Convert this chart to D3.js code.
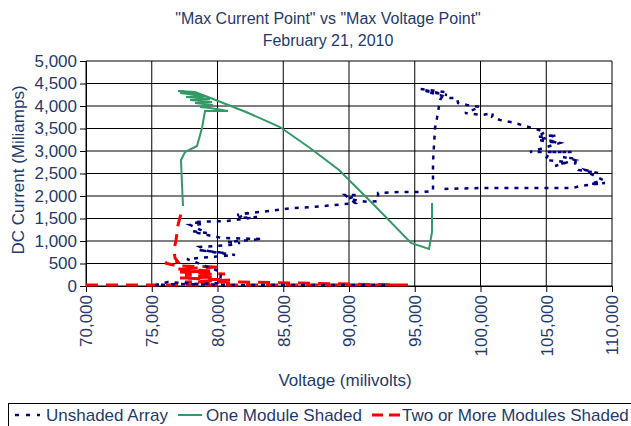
<!DOCTYPE html>
<html>
<head>
<meta charset="utf-8">
<script src="https://cdn.jsdelivr.net/npm/d3@7"></script>
<style>
  body { margin: 0; background: #fff; }
  text { font-family: "Liberation Sans", Arial, sans-serif; fill: #1f3a6e; }
</style>
</head>
<body>
<div class="chart"></div>
<script>
// Chart data
const titleLines = ['"Max Current Point" vs "Max Voltage Point"', "February 21, 2010"];
const xTicks = [70000, 75000, 80000, 85000, 90000, 95000, 100000, 105000, 110000];
const yTicks = [0, 500, 1000, 1500, 2000, 2500, 3000, 3500, 4000, 4500, 5000];
const seriesNames = ["Unshaded Array", "One Module Shaded", "Two or More Modules Shaded"];

// Unshaded Array: voltage (mV) / current (mA)
const unshadedV = [92739, 86275, 81712, 76997, 75247, 76236, 78670, 80191, 80267, 77681, 79430, 81331,
  78518, 80571, 79278, 78670, 80951, 81712, 80799, 83385, 80343, 79582, 78518, 78061, 79202, 77909,
  78898, 78137, 80723, 83005, 81560, 82320, 81484, 82472, 83993, 85666, 87263, 88936, 90457, 89697,
  90610, 89925, 91446, 92207, 92207, 93880, 95629, 96389, 96389, 96541, 96694, 96922, 97302, 95401,
  97454, 95781, 97682, 98215, 98291, 98975, 99964, 98823, 100116, 100952, 100876, 101485, 102625,
  103918, 104907, 104299, 105820, 104375, 105896, 105135, 106048, 103766, 106960, 105287, 104907,
  106580, 105667, 107188, 106276, 107341, 107188, 107417, 108938, 107949, 108101, 109318, 108329,
  109470, 107569, 107036, 103766, 99964, 97150];
const unshadedI = [20, 20, 20, 44, 20, 89, 44, 67, 311, 600, 644, 689,
  800, 733, 778, 867, 911, 956, 978, 1044, 1067, 1111, 1178, 1222, 1178, 1356,
  1378, 1422, 1444, 1533, 1511, 1622, 1578, 1622, 1667, 1733, 1756, 1800, 1844, 2022,
  2022, 1933, 1867, 1889, 2067, 2089, 2089, 2111, 2756, 3511, 3733, 4133, 4311, 4378,
  4244, 4333, 4178, 4178, 4067, 4022, 3978, 3844, 3800, 3844, 3756, 3689, 3622,
  3511, 3422, 3311, 3356, 3244, 3178, 3244, 3178, 2978, 2978, 2978, 2800,
  2756, 2667, 2800, 2867, 2822, 2733, 2578, 2511, 2578, 2533, 2356, 2267,
  2289, 2222, 2178, 2178, 2178, 2156];

// One Module Shaded
const oneModV = [77377, 77301, 77225, 77529, 78442, 78822, 79050, 80799, 79430, 78670, 79658, 78289,
  79582, 77909, 79430, 77605, 79050, 77149, 78670, 76997, 78289, 79278, 79658, 82168, 84754, 87035,
  89241, 91978, 94716, 96085, 96313, 96313];
const oneModI = [1778, 2244, 2800, 2978, 3111, 3511, 3889, 3889, 3956, 3978, 4022, 4067,
  4089, 4133, 4156, 4200, 4222, 4289, 4267, 4333, 4311, 4200, 4156, 3867, 3533, 3067,
  2578, 1778, 956, 822, 1200, 1844];

// Two or More Modules Shaded
const twoModV = [70000, 74867, 81712, 88556, 94488, 81712, 77529, 80951, 77149, 79810, 77529, 80571,
  77149, 79430, 76997, 80191, 76997, 76008, 76997, 76768, 76692, 76845, 76997, 77301];
const twoModI = [20, 20, 20, 20, 20, 89, 89, 133, 178, 200, 244, 267,
  311, 333, 378, 422, 444, 511, 533, 622, 800, 1022, 1356, 1689];

const W = 631, H = 426;
const plot = { left: 86, right: 612, top: 61, bottom: 286 };

const svg = d3.select(".chart").append("svg")
    .attr("width", W)
    .attr("height", H);

const x = d3.scaleLinear().domain([70000, 110000]).range([plot.left, plot.right]);
const y = d3.scaleLinear().domain([0, 5000]).range([plot.bottom, plot.top]);

// Gridlines
svg.append("g")
    .selectAll("line.h")
    .data(yTicks)
    .enter().append("line")
    .attr("x1", plot.left).attr("x2", plot.right)
    .attr("y1", d => y(d)).attr("y2", d => y(d))
    .attr("stroke", "#000").attr("stroke-width", 1);

svg.append("g")
    .selectAll("line.v")
    .data(xTicks)
    .enter().append("line")
    .attr("x1", d => x(d)).attr("x2", d => x(d))
    .attr("y1", plot.top).attr("y2", plot.bottom)
    .attr("stroke", "#000").attr("stroke-width", 1);

// Axes
const fmt = d3.format(",");
const yAxis = svg.append("g")
    .attr("transform", `translate(${plot.left},0)`)
    .call(d3.axisLeft(y).tickValues(yTicks).tickFormat(fmt).tickSize(6).tickPadding(3));
yAxis.selectAll("text").style("font-size", "17px").attr("fill", "#1f3a6e");

const xAxis = svg.append("g")
    .attr("transform", `translate(0,${plot.bottom})`)
    .call(d3.axisBottom(x).tickValues(xTicks).tickFormat(fmt).tickSize(6));
xAxis.selectAll("text")
    .style("font-size", "17px")
    .attr("fill", "#1f3a6e")
    .attr("transform", "rotate(-90)")
    .attr("text-anchor", "end")
    .attr("x", -9)
    .attr("y", 0)
    .attr("dy", "0.35em");
svg.selectAll(".domain").attr("stroke", "#000");
svg.selectAll(".tick line").attr("stroke", "#000");

// Series
const line = d3.line().x(d => x(d[0])).y(d => y(d[1]));
const zip = (a, b) => a.map((v, i) => [v, b[i]]);

svg.append("path")
    .datum(zip(twoModV, twoModI))
    .attr("fill", "none")
    .attr("stroke", "#ff0000")
    .attr("stroke-width", 3)
    .attr("stroke-dasharray", "12,8")
    .attr("d", line);

svg.append("path")
    .datum(zip(unshadedV, unshadedI))
    .attr("fill", "none")
    .attr("stroke", "#000080")
    .attr("stroke-width", 2.5)
    .attr("stroke-dasharray", "4,6")
    .attr("d", line);

svg.append("path")
    .datum(zip(oneModV, oneModI))
    .attr("fill", "none")
    .attr("stroke", "#339966")
    .attr("stroke-width", 2)
    .attr("d", line);

// Titles
svg.append("g")
    .selectAll("text")
    .data(titleLines)
    .enter().append("text")
    .attr("x", 328)
    .attr("y", (d, i) => 24 + i * 22)
    .attr("text-anchor", "middle")
    .style("font-size", "16px")
    .text(d => d);

svg.append("text")
    .attr("x", 345)
    .attr("y", 386)
    .attr("text-anchor", "middle")
    .style("font-size", "17px")
    .text("Voltage (milivolts)");

svg.append("text")
    .attr("transform", "rotate(-90)")
    .attr("x", -170)
    .attr("y", 24)
    .attr("text-anchor", "middle")
    .style("font-size", "17px")
    .text("DC Current (Miliamps)");

// Legend
const legend = svg.append("g");
legend.append("rect")
    .attr("x", 8.5).attr("y", 403.5)
    .attr("width", 640).attr("height", 40)
    .attr("fill", "#fff").attr("stroke", "#000");

const legendItems = [
  { name: seriesNames[0], color: "#000080", width: 2.5, dash: "4,7", x1: 15, x2: 40, tx: 46 },
  { name: seriesNames[1], color: "#339966", width: 2, dash: null, x1: 178, x2: 202, tx: 206 },
  { name: seriesNames[2], color: "#ff0000", width: 3, dash: "11,6", x1: 372, x2: 400, tx: 402 }
];
legendItems.forEach(it => {
  legend.append("line")
      .attr("x1", it.x1).attr("x2", it.x2)
      .attr("y1", 415).attr("y2", 415)
      .attr("stroke", it.color)
      .attr("stroke-width", it.width)
      .attr("stroke-dasharray", it.dash);
  legend.append("text")
      .attr("x", it.tx).attr("y", 421)
      .style("font-size", "17px")
      .text(it.name);
});
</script>
</body>
</html>
